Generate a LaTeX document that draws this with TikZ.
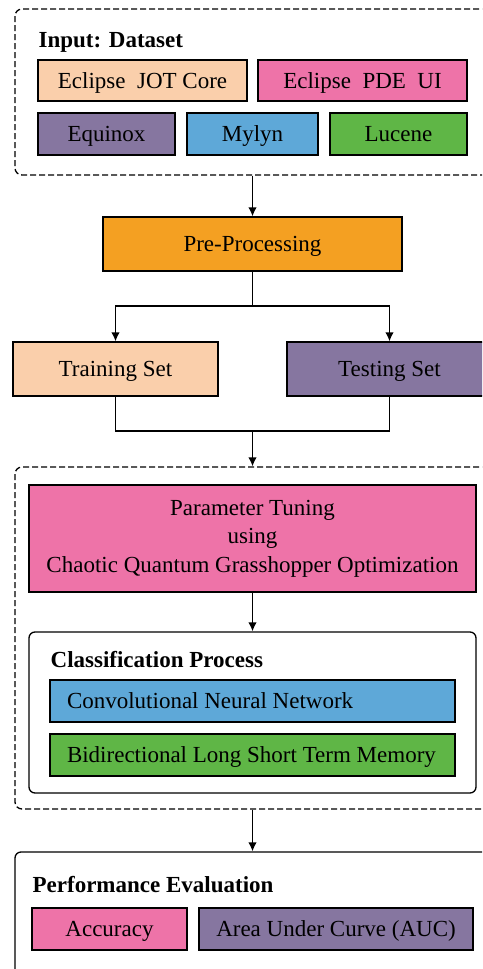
\documentclass[tikz,border=0pt]{standalone}
\usepackage{fontspec}
\setmainfont{Liberation Serif}
\usetikzlibrary{arrows.meta}
\definecolor{peach}{RGB}{250,207,171}
\definecolor{rosa}{RGB}{238,115,168}
\definecolor{lila}{RGB}{134,118,160}
\definecolor{himmel}{RGB}{94,168,216}
\definecolor{gruen}{RGB}{95,182,70}
\definecolor{ocker}{RGB}{244,160,34}

\begin{document}
\begin{tikzpicture}[x=1pt, y=-1pt, >={Latex[length=9pt,width=8.5pt]}, line width=1.3pt,
  every node/.style={font=\fontsize{23}{28.5}\selectfont},
  feld/.style={draw, fill=#1, inner sep=0pt},
  kasten/.style={feld=#1, text height=15pt, text depth=0pt},
  rahmen/.style={draw, dash pattern=on 6pt off 3pt, rounded corners=7pt, inner sep=0pt},
  block/.style={draw, rounded corners=6pt, inner sep=0pt},
  titel/.style={anchor=base west, inner sep=0pt, font=\fontsize{23}{28.5}\selectfont\bfseries},
  pfeil/.style={->, line width=1.5pt}]

\useasboundingbox (0,0) rectangle (482,969);
\clip (0,0) rectangle (482,969);

% Eingabe: die fuenf Datensaetze im gestrichelten Rahmen
\node[rahmen, minimum width=480pt, minimum height=166pt] (eingabe) at (255,92) {};
\node[titel] (eingabetitel) at (38,47) {Input: Dataset};
\node[kasten=peach, minimum width=209pt, minimum height=41pt] (jot) at (142.5,80.5) {Eclipse\ \ JOT Core};
\node[kasten=rosa, minimum width=209pt, minimum height=41pt] (pde) at (362.5,80.5) {Eclipse\ \ PDE\ \ UI};
\node[kasten=lila, minimum width=137pt, minimum height=42pt] (equinox) at (106.5,134) {Equinox};
\node[kasten=himmel, minimum width=131pt, minimum height=42pt] (mylyn) at (252.5,134) {Mylyn};
\node[kasten=gruen, minimum width=137pt, minimum height=42pt] (lucene) at (398.5,134) {Lucene};

% Vorverarbeitung und Aufteilung
\node[kasten=ocker, minimum width=299pt, minimum height=54pt] (pre) at (252.5,244) {Pre-Processing};
\node[kasten=peach, minimum width=205pt, minimum height=54pt] (train) at (115.5,369) {Training Set};
\node[kasten=lila, minimum width=205pt, minimum height=54pt] (test) at (389.5,369) {Testing Set};
\coordinate (split) at (252.5,306);
\coordinate (merge) at (252.5,431);

\draw[pfeil] (pre.north |- eingabe.south) -- (pre.north);
\draw[line width=1.5pt] (pre.south) -- (split);
\draw[pfeil] (split) -| (train.north);
\draw[pfeil] (split) -| (test.north);
\draw[line width=1.5pt] (train.south) |- (merge) -| (test.south);

% Optimierung und Klassifikation im zweiten Rahmen
\node[rahmen, minimum width=480pt, minimum height=342pt] (modell) at (255,638) {};
\node[feld=rosa, minimum width=447pt, minimum height=107pt, align=center] (tuning) at (252.5,538.5)
  {Parameter Tuning\\using\\Chaotic Quantum Grasshopper Optimization};
\node[block, fill=white, minimum width=447pt, minimum height=161pt] (klass) at (252.5,712.5) {};
\node[titel] (klasstitel) at (50,667) {Classification Process};
\node[kasten=himmel, minimum height=42pt, inner xsep=17pt] (cnn) at (252.5,701)
  {\makebox[371pt][l]{Convolutional Neural Network}};
\node[kasten=gruen, minimum height=42pt, inner xsep=17pt] (bilstm) at (252.5,755)
  {\makebox[371pt][l]{Bidirectional Long Short Term Memory}};

\draw[pfeil] (merge) -- (merge |- modell.north);
\draw[pfeil] (tuning.south) -- (klass.north);

% Bewertung
\node[block, minimum width=480pt, minimum height=148pt] (bewertung) at (255,926) {};
\node[titel] (bewertungtitel) at (32,892) {Performance Evaluation};
\node[kasten=rosa, minimum width=155pt, minimum height=42pt] (acc) at (109.5,929) {Accuracy};
\node[kasten=lila, minimum width=274pt, minimum height=42pt] (auc) at (336,929) {Area Under Curve (AUC)};

\draw[pfeil] (tuning.south |- modell.south) -- (tuning.south |- bewertung.north);

\end{tikzpicture}
\end{document}
